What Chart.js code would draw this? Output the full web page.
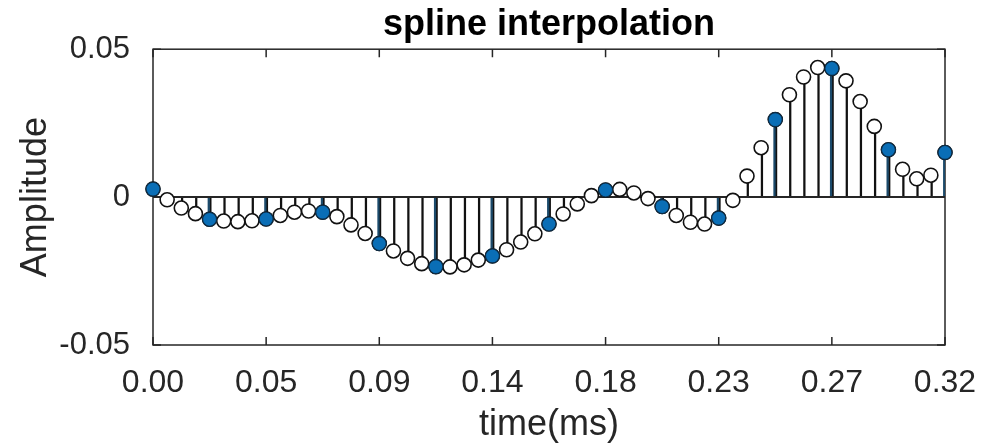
<!DOCTYPE html>
<html>
<head>
<meta charset="utf-8">
<script src="https://cdn.jsdelivr.net/npm/chart.js@4.4.1/dist/chart.umd.min.js"></script>
<style>
html,body{margin:0;padding:0;background:#fff;}
#wrap{width:993px;height:447px;}
</style>
</head>
<body>
<div id="wrap"><canvas id="c" width="993" height="447"></canvas></div>
<script>
// ---- data ----
const titleText = 'spline interpolation';
const xLabel = 'time(ms)';
const yLabel = 'Amplitude';
const tMax = 0.32;               // ms, last sample time
const sampleValues = [0.0027, -0.0075, -0.0074, -0.0051, -0.0157, -0.0235, -0.0199, -0.0091,
                      0.0024, -0.0032, -0.0071, 0.0262, 0.0435, 0.0160, 0.0151];
const interpValues = [
  0.0027, -0.0009, -0.0037, -0.0056, -0.0075, -0.0081, -0.0083, -0.0080,
 -0.0074, -0.0062, -0.0051, -0.0047, -0.0051, -0.0066, -0.0094, -0.0123,
 -0.0157, -0.0182, -0.0207, -0.0225, -0.0235, -0.0236, -0.0229, -0.0213,
 -0.0199, -0.0178, -0.0152, -0.0124, -0.0091, -0.0057, -0.0023,  0.0005,
  0.0024,  0.0026,  0.0014, -0.0005, -0.0032, -0.0062, -0.0085, -0.0091,
 -0.0071, -0.0011,  0.0071,  0.0167,  0.0262,  0.0346,  0.0406,  0.0438,
  0.0435,  0.0393,  0.0323,  0.0239,  0.0160,  0.0094,  0.0062,  0.0074,
  0.0151];
const xTickCount = 8;
const yTicks = [-0.05, 0, 0.05];

// ---- build ----
const nInterp = interpValues.length;
const dtI = tMax / (nInterp - 1);
const dtS = tMax / (sampleValues.length - 1);
const interpPts = interpValues.map((v, i) => ({x: i * dtI, y: v}));
const samplePts = sampleValues.map((v, i) => ({x: i * dtS, y: v}));
const xTicks = Array.from({length: xTickCount}, (_, k) => k * tMax / (xTickCount - 1));

const AX = '#262626';
const FONT = "'Liberation Sans', Arial, Helvetica, sans-serif";

const boxPlugin = {
  id: 'box',
  beforeDatasetsDraw(chart) {
    const {ctx, chartArea: a, scales} = chart;
    ctx.save();
    ctx.strokeStyle = AX;
    ctx.lineWidth = 1.5;
    ctx.strokeRect(a.left, a.top, a.right - a.left, a.bottom - a.top);
    const L = 8;
    ctx.beginPath();
    scales.x.ticks.forEach(t => {
      const px = scales.x.getPixelForValue(t.value);
      ctx.moveTo(px, a.bottom); ctx.lineTo(px, a.bottom - L);
      ctx.moveTo(px, a.top); ctx.lineTo(px, a.top + L);
    });
    scales.y.ticks.forEach(t => {
      const py = scales.y.getPixelForValue(t.value);
      ctx.moveTo(a.left, py); ctx.lineTo(a.left + L, py);
      ctx.moveTo(a.right, py); ctx.lineTo(a.right - L, py);
    });
    ctx.stroke();
    ctx.restore();
  }
};

new Chart(document.getElementById('c'), {
  type: 'bar',
  data: {
    datasets: [
      {
        type: 'bar', label: 'stems', data: interpPts,
        backgroundColor: '#111111', barThickness: 1.6, borderWidth: 0, order: 5
      },
      {
        type: 'bar', label: 'sample stems', data: samplePts,
        backgroundColor: '#1b4a6b', barThickness: 1.6, borderWidth: 0, order: 4
      },
      {
        type: 'line', label: 'baseline', data: [{x: 0, y: 0}, {x: tMax, y: 0}],
        borderColor: AX, borderWidth: 2, pointRadius: 0, order: 3
      },
      {
        type: 'scatter', label: 'interpolated', data: interpPts, showLine: false,
        pointRadius: 7, pointBorderWidth: 1.6, pointBackgroundColor: '#ffffff',
        pointBorderColor: '#111111', order: 2, clip: false
      },
      {
        type: 'scatter', label: 'samples', data: samplePts, showLine: false,
        pointRadius: 7, pointBorderWidth: 1.2, pointBackgroundColor: '#0a6eb6',
        pointBorderColor: '#0d2c45', order: 1, clip: false
      }
    ]
  },
  options: {
    responsive: false,
    animation: false,
    devicePixelRatio: 1,
    layout: {padding: {left: 0, right: 48, top: 0, bottom: 0}},
    plugins: {
      legend: {display: false},
      tooltip: {enabled: false},
      title: {
        display: true, text: titleText, color: '#000', fullSize: false,
        font: {family: FONT, size: 36, weight: 'bold'},
        padding: {top: 3, bottom: 3}
      }
    },
    scales: {
      x: {
        type: 'linear', min: 0, max: tMax, offset: false,
        grid: {display: false}, border: {display: false},
        afterBuildTicks: s => { s.ticks = xTicks.map(v => ({value: v})); },
        afterFit: s => { s.height = 102; },
        ticks: {
          color: AX, font: {family: FONT, size: 32}, padding: 11, maxRotation: 0,
          callback: v => v.toFixed(2)
        },
        title: {display: true, text: xLabel, color: AX, font: {family: FONT, size: 36}, padding: {top: 4, bottom: 0}}
      },
      y: {
        type: 'linear', min: -0.05, max: 0.05,
        grid: {display: false}, border: {display: false},
        afterBuildTicks: s => { s.ticks = yTicks.map(v => ({value: v})); },
        afterFit: s => { s.width = 153; },
        ticks: {
          color: AX, font: {family: FONT, size: 31}, padding: 15,
          callback: v => (v === 0 ? '0' : v.toFixed(2))
        },
        title: {display: true, text: yLabel, color: AX, font: {family: FONT, size: 36}, padding: {top: 14}}
      }
    }
  },
  plugins: [boxPlugin]
});
</script>
</body>
</html>
